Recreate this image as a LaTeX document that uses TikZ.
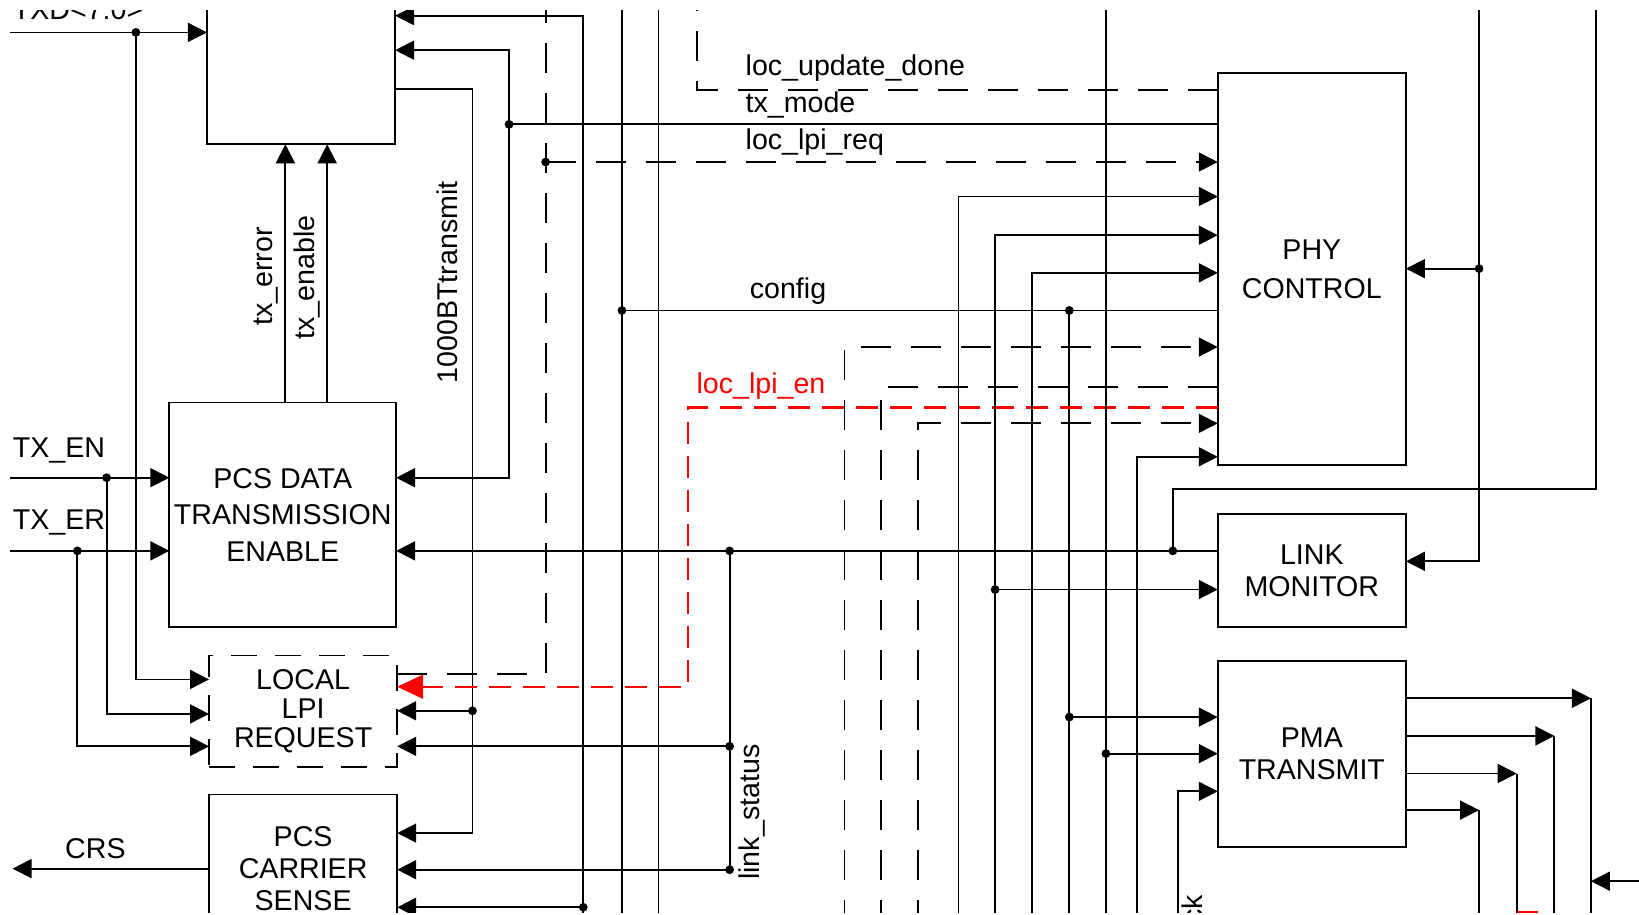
\documentclass[tikz,border=0pt]{standalone}
\usepackage{fontspec}
\setmainfont{Liberation Sans}
\usetikzlibrary{arrows.meta}

\tikzset{
  blk/.style={draw, line width=0.9pt, inner sep=0pt, outer sep=0pt, align=center,
    font=\fontsize{14.3}{#1}\selectfont},
  sig/.style={line width=0.9pt},
  arr/.style={sig, -{Triangle[length=9.5pt,width=9.5pt]}},
  dsh/.style={dash pattern=on 15pt off 10pt},
  lpien/.style={red, line width=1.2pt, dash pattern=on 11pt off 6pt,
    -{Triangle[length=13pt,width=12pt]}},
  lbl/.style={inner sep=0pt}
}

\begin{document}
\begin{tikzpicture}[x=0.5227pt, y=-0.5227pt, font=\fontsize{14.3}{17}\selectfont]

\useasboundingbox (0,0) rectangle (1568,875);
\clip (0,10) rectangle (1568,873);

\coordinate (top) at (0,0);
\coordinate (bot) at (0,890);

% blocks
\node[blk=18.3pt, minimum width=94.1pt, minimum height=103.5pt] (txblk) at (288,39) {};
\node[blk=18.3pt, minimum width=113.4pt, minimum height=112.4pt] (pcsdata) at (270.5,492.5) {PCS DATA\\TRANSMISSION\\ENABLE};
\node[blk=14.6pt, dash pattern=on 13pt off 9pt, minimum width=94.1pt, minimum height=55.9pt] (llr) at (290,680.5) {LOCAL\\LPI\\REQUEST};
\node[blk=16.2pt, minimum width=94.1pt, minimum height=74.2pt] (pcscs) at (290,831) {PCS\\CARRIER\\SENSE};
\node[blk=19.3pt, minimum width=94.1pt, minimum height=196pt] (phyctl) at (1255,257.5) {PHY\\CONTROL};
\node[blk=16.2pt, minimum width=94.1pt, minimum height=56.5pt] (linkmon) at (1255,546) {LINK\\MONITOR};
\node[blk=15.7pt, minimum width=94.1pt, minimum height=93pt] (pmatx) at (1255,721) {PMA\\TRANSMIT};

% labels
\node[lbl, anchor=base west] (txdlbl) at (12,19) {TXD<7:0>};
\node[lbl, anchor=base west] (txenlbl) at (12,438) {TX\_EN};
\node[lbl, anchor=base west] (txerlbl) at (12,507) {TX\_ER};
\node[lbl, anchor=base west] (crslbl) at (62,821) {CRS};
\node[lbl, anchor=base west] (ludlbl) at (713,72) {loc\_update\_done};
\node[lbl, anchor=base west] (tmlbl) at (713,108) {tx\_mode};
\node[lbl, anchor=base west] (lrlbl) at (713,143) {loc\_lpi\_req};
\node[lbl, anchor=base west] (cfglbl) at (717,286) {config};
\node[lbl, anchor=base west, red] (lenlbl) at (666,376) {loc\_lpi\_en};
\node[lbl, anchor=base west, rotate=90] (txerrlbl) at (261,312) {tx\_error};
\node[lbl, anchor=base west, rotate=90] (txenalbl) at (301,325) {tx\_enable};
\node[lbl, anchor=base west, rotate=90] (btlbl) at (438,367) {1000BTtransmit};
\node[lbl, anchor=base west, rotate=90] (lslbl) at (727,842) {link\_status};
\node[lbl, anchor=base east, rotate=90] (cklbl) at (1150,856) {ck};

% left inputs
\coordinate (txd) at (10,31);   \coordinate (txdj) at (130,31);  \coordinate (txdc) at (130,650);
\coordinate (txen) at (10,457); \coordinate (txenj) at (102,457); \coordinate (txenc) at (102,683);
\coordinate (txer) at (10,527); \coordinate (txerj) at (74,527);  \coordinate (txerc) at (74,714);
\coordinate (crs) at (12,831);
\draw[arr] (txd) -- (txd -| txblk.west);
\draw[arr] (txdj) -- (txdc) -- (txdc -| llr.west);
\draw[arr] (txen) -- (txen -| pcsdata.west);
\draw[arr] (txenj) -- (txenc) -- (txenc -| llr.west);
\draw[arr] (txer) -- (txer -| pcsdata.west);
\draw[arr] (txerj) -- (txerc) -- (txerc -| llr.west);
\draw[arr] (crs -| pcscs.west) -- (crs);

% tx_error, tx_enable
\coordinate (txerr) at (273,0); \coordinate (txena) at (313,0);
\draw[arr] (txerr |- pcsdata.north) -- (txerr |- txblk.south);
\draw[arr] (txena |- pcsdata.north) -- (txena |- txblk.south);

% 1000BTtransmit
\coordinate (bt1) at (452,85); \coordinate (bt2) at (452,797); \coordinate (btj) at (452,680);
\draw[arr] (bt1 -| txblk.east) -- (bt1) -- (bt2) -- (bt2 -| pcscs.east);
\draw[arr] (btj) -- (btj -| llr.east);

% tx_mode
\coordinate (tmj) at (487,119); \coordinate (tm1) at (487,48); \coordinate (tm2) at (487,457);
\draw[sig] (tmj -| phyctl.west) -- (tmj);
\draw[arr] (tmj) -- (tm1) -- (tm1 -| txblk.east);
\draw[arr] (tmj) -- (tm2) -- (tm2 -| pcsdata.east);

\coordinate (v558) at (558,15); \coordinate (v558j) at (558,868);
\draw[arr] (v558 |- bot) -- (v558) -- (v558 -| txblk.east);
\draw[arr] (v558j) -- (v558j -| pcscs.east);

% loc_lpi_req
\coordinate (lrc) at (522,645); \coordinate (lrj) at (522,155);
\draw[sig,dsh] (lrc -| llr.east) -- (lrc) -- (lrc |- top);
\draw[arr,dsh] (lrj) -- (lrj -| phyctl.west);

% config
\coordinate (cfgj) at (595,297); \coordinate (cfgk) at (1023,297); \coordinate (cfgp) at (1023,686);
\draw[sig] (cfgj |- top) -- (cfgj |- bot);
\draw[sig] (cfgj -| phyctl.west) -- (cfgj);
\draw[sig] (cfgk) -- (cfgk |- bot);
\draw[arr] (cfgp) -- (cfgp -| pmatx.west);

\coordinate (v630) at (630,0);
\draw[sig] (v630) -- (v630 |- bot);

% loc_update_done
\coordinate (lud) at (667,86);
\draw[sig,dsh] (lud -| phyctl.west) -- (lud) -- (lud |- top);

% loc_lpi_en
\coordinate (len1) at (658,390); \coordinate (len2) at (658,657);
\draw[lpien] (len1 -| phyctl.west) -- (len1) -- (len2) -- (len2 -| llr.east);

% link_status
\coordinate (lsj) at (698,527); \coordinate (ls1) at (698,714); \coordinate (ls2) at (698,832);
\draw[arr] (lsj -| linkmon.west) -- (lsj -| pcsdata.east);
\draw[sig] (lsj) -- (ls2);
\draw[arr] (ls1) -- (ls1 -| llr.east);
\draw[arr] (ls2) -- (ls2 -| pcscs.east);

% inputs of PHY CONTROL
\coordinate (d1) at (808,332); \coordinate (d2) at (843,370); \coordinate (d3) at (878,405);
\draw[arr,dsh] (d1 |- bot) -- (d1) -- (d1 -| phyctl.west);
\draw[sig,dsh] (d2 |- bot) -- (d2) -- (d2 -| phyctl.west);
\draw[arr,dsh] (d3 |- bot) -- (d3) -- (d3 -| phyctl.west);
\foreach \n/\x/\y in {1/917/188, 2/952/225, 3/987/261, 4/1088/437} {
  \coordinate (s\n) at (\x,\y);
  \draw[arr] (s\n |- bot) -- (s\n) -- (s\n -| phyctl.west);
}
\coordinate (lmj) at (952,564);
\draw[arr] (lmj) -- (lmj -| linkmon.west);
\coordinate (v1058) at (1058,721);
\draw[sig] (v1058 |- top) -- (v1058 |- bot);
\draw[arr] (v1058) -- (v1058 -| pmatx.west);
\coordinate (clk) at (1127,757);
\draw[arr] (clk |- bot) -- (clk) -- (clk -| pmatx.west);

% right side
\coordinate (r1) at (1415,257); \coordinate (r1c) at (1415,537);
\draw[arr] (r1 |- top) -- (r1c) -- (r1c -| linkmon.east);
\draw[arr] (r1) -- (r1 -| phyctl.east);
\coordinate (r2) at (1527,468); \coordinate (r2j) at (1122,527);
\draw[sig] (r2 |- top) -- (r2) -- (r2 -| r2j) -- (r2j);

% PMA outputs
\foreach \n/\x/\y in {1/1522/668, 2/1487/704, 3/1451/740, 4/1415/775} {
  \coordinate (o\n) at (\x,\y);
  \draw[arr] (o\n -| pmatx.east) -- (o\n);
  \draw[sig] (o\n) -- (o\n |- bot);
}
\coordinate (rin) at (1568,843);
\draw[arr] (rin) -- (rin -| o1);
\fill[red] (1451,871.5) rectangle (1471,880);

\foreach \p in {txdj,txenj,txerj,btj,tmj,lrj,cfgj,cfgk,cfgp,lsj,ls1,ls2,v558j,lmj,v1058,r1,r2j}
  \fill (\p) circle (2.2pt);

\end{tikzpicture}
\end{document}
